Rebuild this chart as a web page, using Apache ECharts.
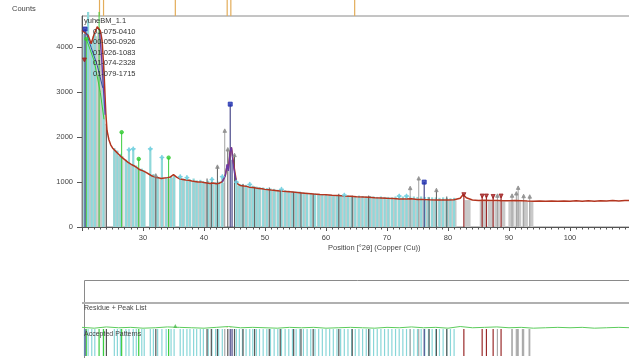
<!DOCTYPE html>
<html><head><meta charset="utf-8">
<script src="https://cdn.jsdelivr.net/npm/echarts@6/dist/echarts.min.js"></script>
<style>html,body{margin:0;padding:0;background:#fff}#c{width:629px;height:358px}</style>
</head><body><div id="c"></div>
<script>
// ---------- data ----------
const yTickValues = [0, 1000, 2000, 3000, 4000];
const legendNames = ['yuheBM_1.1', '01-075-0410', '00-050-0926', '01-026-1083', '01-074-2328', '01-079-1715'];

const profX = [20.0,20.5,21.0,21.5,22.0,22.5,23.0,23.3,23.6,23.9,24.1,24.4,24.7,25.0,25.5,26.0,26.5,27.0,27.5,28.0,28.5,29.0,29.5,30.0,30.5,31.0,31.5,32.0,32.5,33.0,33.5,34.0,34.5,35.0,35.5,36.0,36.5,37.0,37.5,38.0,38.5,39.0,39.5,40.0,40.5,41.0,41.5,42.0,42.5,43.0,43.5,43.8,44.0,44.3,44.5,44.7,45.0,45.3,45.6,46.0,46.5,47.0,47.5,48.0,48.5,49.0,49.5,50.0,51,52,53,54,55,56,57,58,59,60,61,62,63,64,65,66,67,68,69,70,71,72,73,74,75,76,77,78,79,80,81,82,82.5,83,84,85,86,87,88,89,90,91,92,93,94,95,96,97,98,99,100,101,102,103,104,105,106,107,108,109,110];
const profY = [4380,4330,4270,4080,4300,4460,4370,4150,3450,2550,2150,1950,1830,1760,1690,1620,1555,1500,1445,1400,1365,1320,1275,1250,1215,1175,1135,1110,1095,1080,1090,1100,1115,1165,1110,1075,1060,1045,1040,1025,1015,1000,1005,990,980,970,978,962,975,1010,1150,1380,1300,1690,1770,1560,1280,1020,950,925,915,905,885,880,868,860,850,838,822,810,796,785,772,760,748,735,726,718,708,700,690,684,674,668,660,652,648,640,634,626,622,628,615,610,606,604,602,600,606,640,725,650,600,592,596,588,592,585,582,590,584,578,576,580,574,578,572,580,576,582,574,584,576,586,578,588,580,590,594];

// phase profile fragments
const purpleX = [22.9,23.2,23.5,23.8, null, 43.0,43.5,43.8,44.0,44.3,44.5,44.7,45.0,45.3];
const purpleY = [4300,3800,3100,2500, null, 1000,1150,1400,1250,1700,1777,1500,1200,1000];
const greenLineX = [20.7,22.0,23.0,23.6];
const greenLineY = [4190,3700,3000,2400];
const blueLineX = [20.5,21.5,22.5,23.4];
const blueLineY = [4400,4000,3600,3100];

// light gray pattern bands [start, end, height]
const bandStart = [20.1,20.9,21.7,22.5,23.4,23.8,25.1,25.9,27.0,27.8,28.7,29.7,31.0,31.8,32.7,33.6,34.6,36.0,37.0,38.0,38.9,39.9,40.8,41.8,42.8,45.4,46.5,47.4,48.5,49.6,50.8,51.9,53.0,54.1,55.2,56.2,57.3,58.5,59.6,60.7,61.8,62.9,64.0,65.1,66.2,67.3,68.4,69.5,70.6,71.7,72.8,73.9,75.0,76.1,77.2,78.3,79.4,80.5,82.7,85.2,86.5,87.6,88.7,89.9,91.1,92.2,93.3];
const bandEnd   = [20.8,21.6,22.5,23.3,23.8,24.1,25.8,26.8,27.7,28.6,29.6,30.4,31.7,32.6,33.5,34.5,35.3,36.9,37.9,38.8,39.8,40.6,41.7,42.7,43.4,46.3,47.3,48.4,49.4,50.6,51.8,52.9,54.0,55.0,56.0,57.1,58.3,59.4,60.5,61.6,62.8,63.9,65.0,66.1,67.2,68.3,69.4,70.5,71.6,72.7,73.8,74.9,76.0,77.1,78.2,79.3,80.4,81.4,83.7,86.2,87.4,88.5,89.4,90.9,92.0,93.1,94.0];
const bandH     = [4300,4100,4250,4350,3500,2300,1700,1580,1470,1390,1300,1240,1160,1100,1070,1080,1100,1050,1030,1010,990,980,960,955,980,920,890,870,850,825,810,795,780,765,755,740,725,715,700,690,680,675,665,655,645,640,630,620,615,610,605,605,595,590,590,590,590,595,600,570,570,570,570,565,570,560,555];

// cyan pattern sticks
const cyanPos = [20.4,21.0,21.6,22.1,23.5,25.3,25.8,26.3,27.2,27.7,28.4,28.9,29.8,30.2,31.2,31.7,32.4,33.1,33.8,34.6,35.1,36.1,36.6,37.2,37.7,38.3,38.8,39.4,39.9,40.7,41.3,41.9,42.4,43.0,45.3,45.8,46.3,46.9,47.5,48.0,48.6,49.1,49.7,50.3,50.9,51.5,52.1,52.7,53.3,53.9,54.5,55.1,55.7,56.3,56.9,57.5,58.2,58.8,59.4,60.0,60.6,61.2,61.8,62.4,63.0,63.6,64.2,64.8,65.4,66.0,66.6,67.2,67.8,68.4,69.0,69.6,70.2,70.8,71.4,72.0,72.6,73.2,73.8,74.4,75.0,75.6,76.2,76.8,77.4,78.0,78.6,79.2,79.8,80.4,81.0];
const cyanH   = [4300,4790,4150,4300,3600,1760,1700,1630,1500,1720,1740,1370,1300,1260,1740,1180,1120,1550,1110,1120,1150,1120,1080,1100,1060,1080,1040,1050,1020,1030,1060,1000,1010,1120,1000,960,950,940,950,920,900,890,880,870,860,850,830,840,820,810,800,790,790,770,760,760,750,740,730,720,720,710,700,700,710,700,690,690,700,690,680,690,680,670,680,670,670,660,680,690,680,690,680,680,670,680,670,670,660,660,650,660,650,640,650];

// dark gray pattern sticks
const darkPos = [24.0,32.1,40.5,41.2,42.2,43.9,45.0,46.4,48.3,50.7,52.5,54.7,55.9,57.9,62.1,64.3,67.0,76.9,78.1,79.8];
const darkH   = [2300,1150,1080,1000,1345,1732,1605,960,900,880,840,780,770,740,740,700,700,660,825,680];
// light gray pattern sticks
const grayPos = [43.4,73.8,75.2,88.1,90.5,91.2,91.5,92.4,93.4];
const grayH   = [2147,870,1085,700,700,750,876,690,680];
// blue pattern sticks
const bluePos = [20.5,44.3,44.6,76.1];
const blueH   = [4410,2736,1500,1000];
// dark red pattern sticks
const redPos = [82.6,85.6,86.3,87.4,88.7];
const redH   = [720,690,690,680,690];
// green pattern sticks
const greenPos = [20.7,22.8,26.5,29.3,34.2];
const greenH   = [4190,4790,2111,1516,1545];

// peak list
const peakPos = [22.87,23.53,35.3,43.8,44.4,64.7];

// residue
const resX = [20,22,24,26,28,30,32,34,36,38,40,42,44,46,48,50,52,54,56,58,60,62,64,66,68,70,72,74,76,78,80,82,84,86,88,90,92,94,96,98,100,102,104,106,108,110];
const resY = [1,-1,2,0,1,-1,0,2,1,0,-1,1,3,0,1,0,-1,1,0,1,-1,0,1,0,-1,1,0,2,0,1,-1,3,0,1,2,0,1,-1,0,1,0,1,-1,0,1,0];

// ---------- helpers ----------
function stick(pos, h, color, width, xi, yi, z) {
  return {
    type: 'custom', xAxisIndex: xi, yAxisIndex: yi, z: z || 2, silent: true,
    data: pos.map((p, i) => [p, h === 1 ? 1 : h[i]]),
    renderItem: function (params, api) {
      const a = api.coord([api.value(0), 0]);
      const b = api.coord([api.value(0), api.value(1)]);
      return { type: 'line', shape: { x1: a[0], y1: a[1], x2: b[0], y2: b[1] }, style: { stroke: color, lineWidth: width } };
    }
  };
}
function marks(pos, h, symbol, color, size, rotate, z) {
  return {
    type: 'scatter', xAxisIndex: 0, yAxisIndex: 0, z: z || 5, silent: true,
    symbol: symbol, symbolSize: size, symbolRotate: rotate || 0,
    itemStyle: { color: color, borderColor: color },
    data: pos.map((p, i) => [p, h[i]])
  };
}
function zip(a, b) { return a.map((v, i) => v === null ? [null, null] : [v, b[i]]); }

const font = 'Liberation Sans';
const lbl = { fontFamily: font, fontSize: 7.5, color: '#444' };

const series = [];
// bands
series.push({
  type: 'custom', xAxisIndex: 0, yAxisIndex: 0, z: 1, silent: true,
  data: bandStart.map((s, i) => [s, bandEnd[i], bandH[i]]),
  encode: { x: [0, 1], y: 2 },
  renderItem: function (params, api) {
    const a = api.coord([api.value(0), api.value(2)]);
    const b = api.coord([api.value(1), 0]);
    return { type: 'rect', shape: { x: a[0], y: a[1], width: b[0] - a[0], height: b[1] - a[1] }, style: { fill: '#c9c9c9' } };
  }
});
series.push(stick(cyanPos, cyanH, '#8fd8da', 2.2, 0, 0, 2));
series.push(stick(grayPos, grayH, '#a0a0a0', 1, 0, 0, 3));
series.push(stick(darkPos, darkH, '#5a5a5a', 1, 0, 0, 3));
series.push(stick(redPos, redH, '#9a2a2a', 1.2, 0, 0, 3));
series.push(stick(greenPos, greenH, '#3ccc3c', 1, 0, 0, 3));
series.push(stick(bluePos, blueH, '#4a4a8a', 1.2, 0, 0, 3));
// profile
series.push({ type: 'line', xAxisIndex: 0, yAxisIndex: 0, z: 4, silent: true, showSymbol: false,
  data: zip(profX, profY), lineStyle: { color: '#b3351f', width: 1.5 } });
series.push({ type: 'line', xAxisIndex: 0, yAxisIndex: 0, z: 4, silent: true, showSymbol: false, connectNulls: false,
  data: zip(purpleX, purpleY), lineStyle: { color: '#6a3aa8', width: 1.3 } });
series.push({ type: 'line', xAxisIndex: 0, yAxisIndex: 0, z: 4, silent: true, showSymbol: false,
  data: zip(greenLineX, greenLineY), lineStyle: { color: '#3ccc3c', width: 1 } });
series.push({ type: 'line', xAxisIndex: 0, yAxisIndex: 0, z: 4, silent: true, showSymbol: false,
  data: zip(blueLineX, blueLineY), lineStyle: { color: '#3050a0', width: 1 } });
// markers
series.push(marks([20.5, 44.3, 76.1], [4410, 2736, 1000], 'rect', '#1f2fb0', 4));
series.push(marks(greenPos, greenH, 'circle', '#33cc33', 3.5));
series.push(marks([32.1, 42.2, 43.4, 43.9, 45.0, 73.8, 75.2, 78.1, 88.1, 90.5, 91.2, 91.5, 92.4, 93.4],
  [1150, 1345, 2147, 1732, 1605, 870, 1085, 825, 700, 700, 750, 876, 690, 680], 'triangle', '#8c8c8c', 3.5));
series.push(marks([20.4, 82.6, 85.6, 86.3, 87.4, 88.7], [3720, 720, 690, 690, 680, 690], 'triangle', '#a02020', 4, 180));
series.push(marks([21.0, 27.7, 28.4, 31.2, 33.1, 36.1, 37.2, 41.3, 43.0, 45.3, 47.5, 52.7, 63.0, 72.0, 73.2],
  [4790, 1720, 1740, 1740, 1550, 1120, 1100, 1060, 1120, 1000, 950, 840, 710, 690, 690],
  'path://M4,0h2v4h4v2h-4v4h-2v-4h-4v-2h4z', '#6fd0e0', 4));
// top peak list (above main box)
series.push(stick(peakPos, 1, '#e3ad5a', 1.2, 3, 3, 2));
// residue panel
series.push(stick(peakPos, 1, '#e3ad5a', 1.2, 1, 1, 2));
series.push({ type: 'line', xAxisIndex: 1, yAxisIndex: 1, z: 4, silent: true, showSymbol: false,
  data: zip(resX, resY), lineStyle: { color: '#5ccc5c', width: 1 } });
series.push({ type: 'scatter', xAxisIndex: 1, yAxisIndex: 1, z: 5, silent: true, symbol: 'triangle', symbolSize: 4,
  itemStyle: { color: '#4cbc4c' }, data: [[35.3, 4]] });
// accepted patterns panel
series.push(stick(cyanPos, 1, '#88d6d8', 1.2, 2, 2, 2));
series.push(stick(grayPos.concat([90.5, 91.4, 92.2, 93.3]), 1, '#aaaaaa', 1.2, 2, 2, 3));
series.push(stick(darkPos, 1, '#555555', 1.2, 2, 2, 3));
series.push(stick(redPos, 1, '#9a2a2a', 1.2, 2, 2, 3));
series.push(stick(greenPos.concat([23.53]), 1, '#3ccc3c', 1.2, 2, 2, 3));
series.push(stick(bluePos, 1, '#4a4a8a', 1.2, 2, 2, 3));

const hiddenX = (gi) => ({ type: 'value', gridIndex: gi, min: 20, max: 110, show: false });
const chart = echarts.init(document.getElementById('c'), null, { renderer: 'canvas' });
chart.setOption({
  animation: false,
  backgroundColor: '#fff',
  grid: [
    { left: 82, right: -2, top: 16, bottom: 131, show: true, borderColor: '#8a8a8a', borderWidth: 1, outerBoundsMode: 'none' },
    { left: 82, right: -2, top: 303, height: 26, show: false, outerBoundsMode: 'none' },
    { left: 82, right: -2, top: 329, height: 27, show: false, outerBoundsMode: 'none' },
    { left: 82, right: -2, top: 0, height: 16, show: false, outerBoundsMode: 'none' }
  ],
  xAxis: [
    { type: 'value', gridIndex: 0, min: 20, max: 110, interval: 10,
      axisLine: { show: true, onZero: false, lineStyle: { color: '#555', width: 1 } },
      axisTick: { show: true, length: 4, lineStyle: { color: '#555' } },
      minorTick: { show: true, splitNumber: 10, length: 2.5, lineStyle: { color: '#555' } },
      axisLabel: Object.assign({ margin: 7, formatter: v => (v === 20 || v === 110) ? '' : String(v) }, lbl),
      splitLine: { show: false } },
    hiddenX(1), hiddenX(2), hiddenX(3)
  ],
  yAxis: [
    { type: 'value', gridIndex: 0, min: 0, max: 4700,
      axisLine: { show: true, onZero: false, lineStyle: { color: '#555', width: 1 } },
      axisTick: { show: true, length: 5, customValues: yTickValues, lineStyle: { color: '#555' } },
      axisLabel: Object.assign({ margin: 9, customValues: yTickValues, formatter: v => String(v) }, lbl),
      splitLine: { show: false } },
    { type: 'value', gridIndex: 1, min: -3, max: 60, show: false },
    { type: 'value', gridIndex: 2, min: 0, max: 1, show: false },
    { type: 'value', gridIndex: 3, min: 0, max: 1, show: false }
  ],
  series: series,
  graphic: [
    { type: 'text', left: 12, top: 5, z: 10, style: { text: 'Counts', font: '7.5px "' + font + '"', fill: '#444' } },
    { type: 'text', left: 84, top: 17, z: 10, style: { text: legendNames[0], font: '7.5px "' + font + '"', fill: '#333' } },
    { type: 'text', left: 93, top: 27.5, z: 10, style: { text: legendNames[1], font: '7.5px "' + font + '"', fill: '#333' } },
    { type: 'text', left: 93, top: 38, z: 10, style: { text: legendNames[2], font: '7.5px "' + font + '"', fill: '#333' } },
    { type: 'text', left: 93, top: 48.5, z: 10, style: { text: legendNames[3], font: '7.5px "' + font + '"', fill: '#333' } },
    { type: 'text', left: 93, top: 59, z: 10, style: { text: legendNames[4], font: '7.5px "' + font + '"', fill: '#333' } },
    { type: 'text', left: 93, top: 69.5, z: 10, style: { text: legendNames[5], font: '7.5px "' + font + '"', fill: '#333' } },
    { type: 'text', left: 328, top: 244, z: 10, style: { text: 'Position [°2θ] (Copper (Cu))', font: '7.5px "' + font + '"', fill: '#444' } },
    { type: 'rect', left: 82, top: 278, z: 0, shape: { width: 560, height: 78 }, style: { fill: 'none', stroke: '#8a8a8a', lineWidth: 1 } },
    { type: 'rect', left: 82, top: 302, z: 1, shape: { width: 560, height: 2 }, style: { fill: '#b0b0b0' } },
    { type: 'text', left: 84, top: 305, z: 10, style: { text: 'Residue + Peak List', font: '7px "' + font + '"', fill: '#444' } },
    { type: 'text', left: 84, top: 331, z: 10, style: { text: 'Accepted Patterns', font: '7px "' + font + '"', fill: '#444' } }
  ]
});
</script>
</body></html>
